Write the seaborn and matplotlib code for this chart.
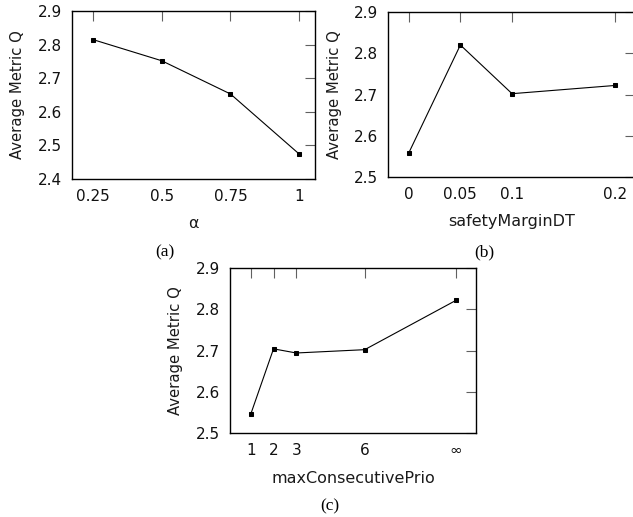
import matplotlib
matplotlib.use("Agg")
import matplotlib.pyplot as plt
import seaborn as sns
import pandas as pd

# Data
alpha_x = [0.25, 0.5, 0.75, 1.0]
alpha_q = [2.815, 2.752, 2.653, 2.474]

margin_x = [0.0, 0.05, 0.1, 0.2]
margin_q = [2.558, 2.820, 2.702, 2.722]

prio_x = [1, 2, 3, 6, 10]
prio_labels = ["1", "2", "3", "6", "∞"]
prio_q = [2.546, 2.704, 2.694, 2.702, 2.821]

sns.set_theme(style="white")
plt.rcParams['font.family'] = ['DejaVu Sans']

fig = plt.figure(figsize=(6.33, 5.17), dpi=100)

def style(ax, xlim, ylim, yticks, xticks, xticklabels, xlabel):
    ax.set_xlim(*xlim)
    ax.set_ylim(*ylim)
    ax.set_yticks(yticks)
    ax.set_yticklabels([f"{v:.1f}" for v in yticks])
    ax.set_xticks(xticks)
    ax.set_xticklabels(xticklabels)
    ax.set_xlabel(xlabel, fontsize=11.5, labelpad=9, color='#1a1a1a')
    ax.set_ylabel("Average Metric Q", fontsize=10.7, labelpad=9, color='#1a1a1a')
    ax.tick_params(direction='in', length=7, width=0.8, color='#606060',
                   top=True, right=True, labelsize=11, labelcolor='#111111')
    ax.tick_params(axis='x', pad=7)
    ax.tick_params(axis='y', pad=7)
    for s in ax.spines.values():
        s.set_visible(True)
        s.set_color('black')
        s.set_linewidth(1.0)

def draw(ax, x, y):
    df = pd.DataFrame({"x": x, "y": y})
    sns.lineplot(data=df, x="x", y="y", ax=ax, color='black', linewidth=0.8,
                 marker='s', markersize=3.5, markeredgecolor='black')

ax1 = fig.add_axes([0.1137, 0.6538, 0.3839, 0.3249])
draw(ax1, alpha_x, alpha_q)
style(ax1, (0.174, 1.057), (2.4, 2.9), [2.4, 2.5, 2.6, 2.7, 2.8, 2.9],
      alpha_x, ["0.25", "0.5", "0.75", "1"], "α")

ax2 = fig.add_axes([0.6130, 0.6576, 0.3902, 0.3192])
draw(ax2, margin_x, margin_q)
style(ax2, (-0.02, 0.219), (2.5, 2.9), [2.5, 2.6, 2.7, 2.8, 2.9],
      margin_x, ["0", "0.05", "0.1", "0.2"], "safetyMarginDT")

ax3 = fig.add_axes([0.3633, 0.1619, 0.3886, 0.3203])
draw(ax3, prio_x, prio_q)
style(ax3, (0.09, 10.88), (2.5, 2.9), [2.5, 2.6, 2.7, 2.8, 2.9],
      prio_x, prio_labels, "maxConsecutivePrio")

cap = dict(fontsize=12.5, family='Liberation Serif', ha='center', va='center', color='black')
fig.text(165 / 633, 1 - 252 / 517, "(a)", **cap)
fig.text(484 / 633, 1 - 252 / 517, "(b)", **cap)
fig.text(330 / 633, 1 - 506 / 517, "(c)", **cap)

fig.savefig("out.png", dpi=100)
